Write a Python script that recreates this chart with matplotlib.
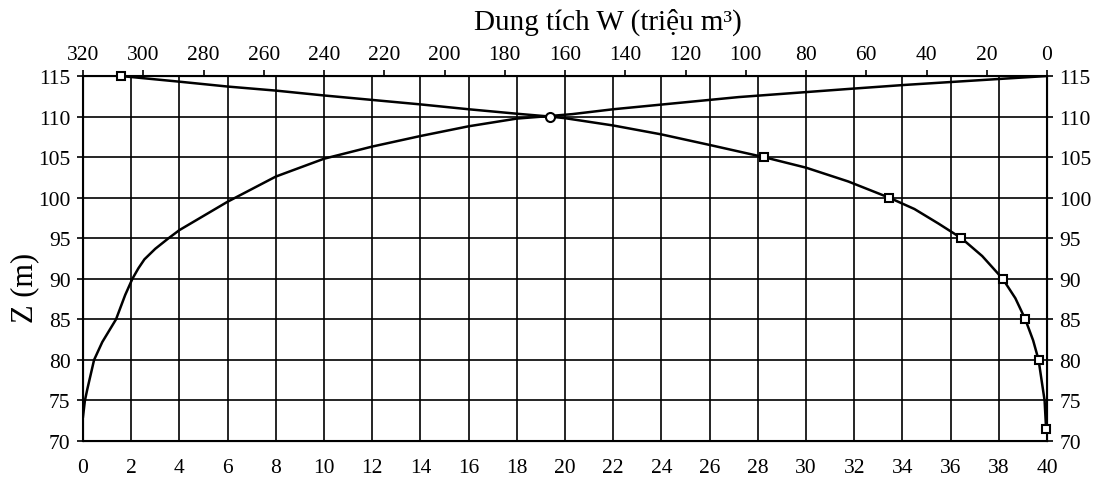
import matplotlib
matplotlib.use("Agg")
import matplotlib.pyplot as plt

plt.rcParams['font.family'] = ['Liberation Serif', 'DejaVu Serif']

# Area curve F (bottom axis) vs elevation Z
area_F = [0.0, 0.08, 0.18, 0.46, 0.8, 1.37, 1.75, 2.05, 2.3, 2.55, 3.0, 3.55, 4.0, 6.0, 8.0, 10.0,
          12.0, 14.0, 16.0, 18.0, 19.3, 20.3, 22.0, 27.2, 31.75, 34.1, 38.1, 40.0]
area_Z = [73.0, 75.0, 76.4, 80.0, 82.2, 85.0, 88.0, 90.0, 91.3, 92.4, 93.7, 95.0, 96.0, 99.5, 102.6, 104.8,
          106.3, 107.6, 108.8, 109.75, 110.05, 110.3, 110.9, 112.4, 113.4, 113.9, 114.65, 115.0]

# Volume curve W (top axis, million m3) vs elevation Z
vol_W = [307.5, 288, 272, 256, 240, 224, 208, 192, 176, 165, 160, 144, 128, 112, 94,
         80, 66, 52.4, 44, 36, 28.4, 21.5, 14.7, 10.5, 7.2, 4.6, 2.8, 0.8, 0.3]
vol_Z = [115.0, 114.3, 113.7, 113.2, 112.6, 112.05, 111.5, 110.9, 110.35, 110.0, 109.8, 108.9,
         107.8, 106.5, 105.0, 103.7, 102.0, 100.0, 98.6, 96.8, 95.0, 92.8, 90.0, 87.6, 85.0,
         82.4, 80.0, 75.0, 71.5]

# Marked points on the volume curve
mark_W = [307.5, 165, 94, 52.4, 28.4, 14.7, 7.2, 2.8, 0.3]
mark_Z = [115, 110, 105, 100, 95, 90, 85, 80, 71.5]

F_ticks = list(range(0, 41, 2))
W_ticks = list(range(320, -1, -20))
Z_ticks = list(range(70, 116, 5))

title_top = "Dung tích W (triệu m³)"
ylabel = "Z (m)"

W, H = 1103, 489
fig = plt.figure(figsize=(W / 100, H / 100), dpi=100)
ax = fig.add_axes([83 / W, 1 - 442 / H, (1047 - 83) / W, (442 - 77) / H])

ax.set_xlim(0, 40)
ax.set_ylim(70, 115)
ax.set_xticks(F_ticks)
ax.set_yticks(Z_ticks)
ax.grid(True, color='black', linewidth=1.2)
ax.set_axisbelow(True)
for s in ax.spines.values():
    s.set_linewidth(1.5)

ax.tick_params(axis='x', which='both', length=0, pad=12, labelsize=15.5)
ax.tick_params(axis='y', which='both', length=4, width=1.2, pad=5, labelsize=15.5,
               left=True, right=True, labelleft=True, labelright=True, direction='out')

ax.plot(area_F, area_Z, color='black', linewidth=1.8, zorder=3)

ax2 = ax.twiny()
ax2.set_xlim(320, 0)
ax2.set_xticks(W_ticks)
ax2.tick_params(axis='x', length=4, width=1.2, pad=5, labelsize=15.5, direction='out')
ax2.plot(vol_W, vol_Z, color='black', linewidth=1.8, zorder=3)
ax2.plot(mark_W[:1] + mark_W[2:], mark_Z[:1] + mark_Z[2:], linestyle='none', marker='s',
         markersize=5.5, markerfacecolor='white', markeredgecolor='black',
         markeredgewidth=1.5, zorder=4, clip_on=False)
ax2.plot(mark_W[1:2], mark_Z[1:2], linestyle='none', marker='o', markersize=6.5,
         markerfacecolor='white', markeredgecolor='black', markeredgewidth=1.5,
         zorder=4, clip_on=False)
ax2.set_ylim(70, 115)

fig.text(608 / W, 1 - 22 / H, title_top, ha='center', va='center', fontsize=21)
fig.text(25 / W, 1 - 288 / H, ylabel, ha='center', va='center', rotation=90, fontsize=22)

fig.savefig("out.png", dpi=100)
